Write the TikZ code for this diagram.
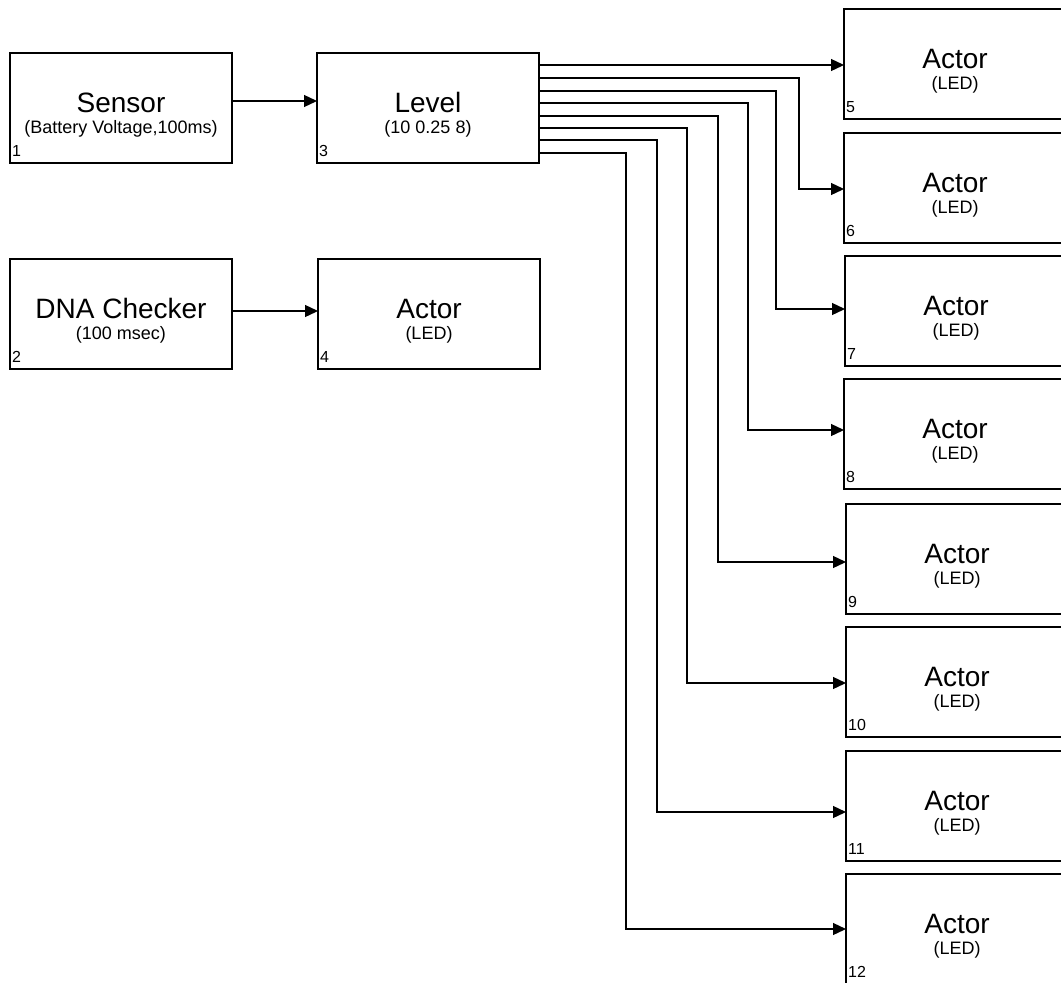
\documentclass[tikz,border=0pt]{standalone}
\usepackage{fontspec}
\setmainfont{Liberation Sans}
\usetikzlibrary{arrows.meta}
\tikzset{
 blk/.style={draw, line width=1.3pt, minimum width=222pt, minimum height=110pt, inner sep=0pt, outer sep=0pt, anchor=north west},
 ttl/.style={anchor=base, inner sep=0pt, font=\fontsize{28}{30}\selectfont},
 sub/.style={anchor=base, inner sep=0pt, font=\fontsize{18}{20}\selectfont},
 num/.style={anchor=base west, inner sep=0pt, font=\fontsize{16}{18}\selectfont},
 arr/.style={line width=1.3pt, -{Triangle[length=13pt,width=12pt]}}
}
\newcommand{\blockbox}[6]{%
 \node[blk] (#1) at (#2,#3) {};
 \node[ttl] (#1t) at ([yshift=-59pt]#1.north) {#4};
 \node[sub] (#1s) at ([yshift=-80pt]#1.north) {#5};
 \node[num] (#1n) at ([xshift=2pt,yshift=-103pt]#1.north west) {#6};
}
\begin{document}
\begin{tikzpicture}[x=1pt,y=-1pt]
\fill[white] (0,0) rectangle (1061,983);
\useasboundingbox (0,0) rectangle (1061,983);
\blockbox{sen}{10}{53}{Sensor}{(Battery Voltage,100ms)}{1}
\blockbox{dna}{10}{259}{DNA Checker}{(100 msec)}{2}
\blockbox{lvl}{317}{53}{Level}{(10 0.25 8)}{3}
\blockbox{acta}{318}{259}{Actor}{(LED)}{4}
\blockbox{actb}{844}{9}{Actor}{(LED)}{5}
\blockbox{actc}{844}{133}{Actor}{(LED)}{6}
\blockbox{actd}{845}{256}{Actor}{(LED)}{7}
\blockbox{acte}{844}{379}{Actor}{(LED)}{8}
\blockbox{actf}{846}{504}{Actor}{(LED)}{9}
\blockbox{actg}{846}{627}{Actor}{(LED)}{10}
\blockbox{acth}{846}{751}{Actor}{(LED)}{11}
\blockbox{acti}{846}{874}{Actor}{(LED)}{12}
\draw[arr] (sen.east |- 0,101) -- (lvl.west |- 0,101);
\draw[arr] (dna.east |- 0,311) -- (acta.west |- 0,311);
\draw[arr] (lvl.east |- 0,65) -- (actb.west |- 0,65);
\draw[arr] (lvl.east |- 0,78) -| (799,189) -- (actc.west |- 0,189);
\draw[arr] (lvl.east |- 0,91) -| (776,309) -- (actd.west |- 0,309);
\draw[arr] (lvl.east |- 0,103) -| (748,430) -- (acte.west |- 0,430);
\draw[arr] (lvl.east |- 0,116) -| (718,562) -- (actf.west |- 0,562);
\draw[arr] (lvl.east |- 0,128) -| (687,683) -- (actg.west |- 0,683);
\draw[arr] (lvl.east |- 0,140) -| (657,812) -- (acth.west |- 0,812);
\draw[arr] (lvl.east |- 0,153) -| (626,929) -- (acti.west |- 0,929);
\end{tikzpicture}
\end{document}
